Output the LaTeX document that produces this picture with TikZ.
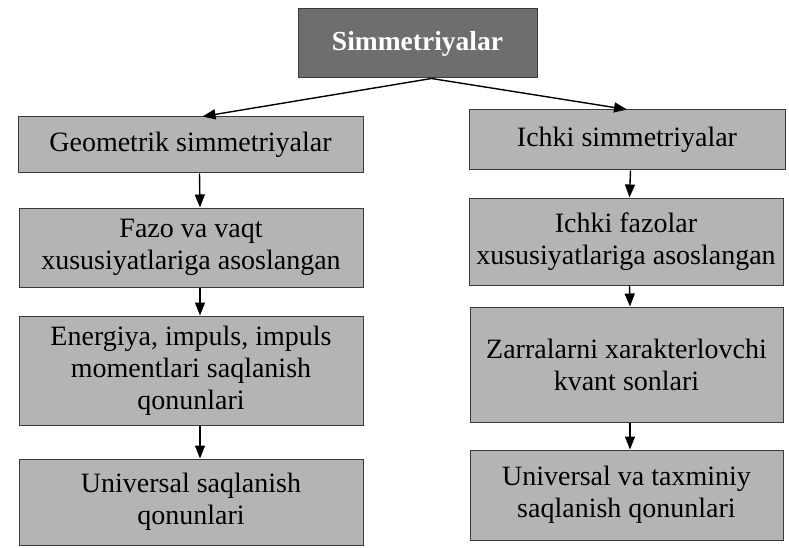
\documentclass[tikz,border=0pt]{standalone}
\usepackage{fontspec}
\setmainfont{Liberation Serif}
\usepackage{tikz}
\usetikzlibrary{arrows.meta}
\definecolor{boxgray}{HTML}{B4B4B4}
\definecolor{topgray}{HTML}{6E6E6E}
\definecolor{edge}{HTML}{3A3A3A}

\begin{document}
\begin{tikzpicture}[x=1pt,y=-1pt,
	box/.style={draw=edge,fill=boxgray,line width=1pt,align=center,inner sep=0pt,
		font=\fontsize{28}{32}\selectfont},
	arr/.style={line width=1.4pt,-{Triangle[length=13pt,width=10pt]}}]
	\useasboundingbox (0,0) rectangle (789,548);
	% head
	\node[box,fill=topgray,text=white,font=\fontsize{27.5}{32}\selectfont\bfseries,
		minimum width=239pt,minimum height=69pt] (top) at (417.5,43.5) {Simmetriyalar};
	% left column
	\node[box,minimum width=345pt,minimum height=56pt] (L1) at (190.5,145) {Geometrik simmetriyalar};
	\node[box,minimum width=344pt,minimum height=79pt] (L2) at (191,247.5) {Fazo va vaqt\\xususiyatlariga asoslangan};
	\node[box,minimum width=344pt,minimum height=109pt] (L3) at (191,370.5) {Energiya, impuls, impuls\\momentlari saqlanish\\qonunlari};
	\node[box,minimum width=344pt,minimum height=86pt] (L4) at (191,502) {Universal saqlanish\\qonunlari};
	% right column
	\node[box,minimum width=316pt,minimum height=60pt] (R1) at (627,140) {Ichki simmetriyalar};
	\node[box,minimum width=314pt,minimum height=87pt] (R2) at (626,241.5) {Ichki fazolar\\xususiyatlariga asoslangan};
	\node[box,minimum width=313pt,minimum height=115pt] (R3) at (626.5,364.5) {Zarralarni xarakterlovchi\\kvant sonlari};
	\node[box,minimum width=313pt,minimum height=90pt] (R4) at (626.5,495) {Universal va taxminiy\\saqlanish qonunlari};
	% arrows
	\coordinate (fork) at ([xshift=14pt]top.south);
	\draw[arr] (fork) -- ([xshift=12pt]L1.north);
	\draw[arr] (fork) -- (R1.north);
	\foreach \a/\b in {L1/L2,L2/L3,L3/L4}
	\draw[arr] ([xshift=9pt]\a.south) -- ([xshift=9pt]\b.north);
	\foreach \a/\b in {R1/R2,R2/R3,R3/R4}
	\draw[arr] ([xshift=3.5pt]\a.south) -- ([xshift=3.5pt]\b.north);
\end{tikzpicture}
\end{document}
